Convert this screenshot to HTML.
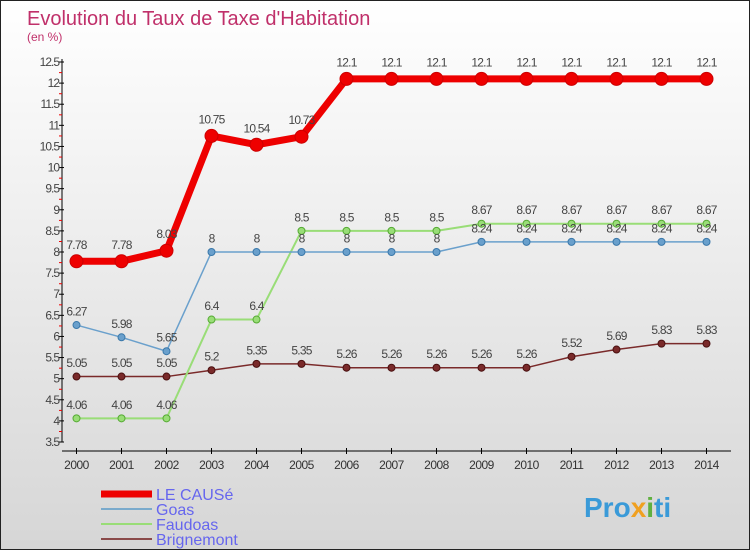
<!DOCTYPE html>
<html><head><meta charset="utf-8"><style>
body{margin:0}
#c{width:750px;height:550px;position:relative;overflow:hidden;box-sizing:border-box;border:1px solid #222;background:linear-gradient(#ffffff,#d6d6d6);font-family:"Liberation Sans","DejaVu Sans",sans-serif}
svg{position:absolute;left:0;top:0}
</style></head><body>
<div id="c">
<svg id="s" width="750" height="550">
<text x="26" y="24" font-size="20" fill="#c0306a">Evolution du Taux de Taxe d'Habitation</text>
<text x="26" y="40" font-size="12" fill="#c0306a">(en %)</text>
<text x="583" y="516" font-size="28" font-weight="bold" fill="#3a9ad8">Pro<tspan fill="#f0a020">x</tspan><tspan fill="#60b040">i</tspan>ti</text>
</svg>
</div>
<script>
const years=[2000,2001,2002,2003,2004,2005,2006,2007,2008,2009,2010,2011,2012,2013,2014];
const leCause=[7.78,7.78,8.03,10.75,10.54,10.73,12.1,12.1,12.1,12.1,12.1,12.1,12.1,12.1,12.1];
const goas=[6.27,5.98,5.65,8,8,8,8,8,8,8.24,8.24,8.24,8.24,8.24,8.24];
const faudoas=[4.06,4.06,4.06,6.4,6.4,8.5,8.5,8.5,8.5,8.67,8.67,8.67,8.67,8.67,8.67];
const brignemont=[5.05,5.05,5.05,5.2,5.35,5.35,5.26,5.26,5.26,5.26,5.26,5.52,5.69,5.83,5.83];
const yTicks=[3.5,4,4.5,5,5.5,6,6.5,7,7.5,8,8.5,9,9.5,10,10.5,11,11.5,12,12.5];
const NS="http://www.w3.org/2000/svg";
const s=document.getElementById('s');
const X=i=>75.5+i*45;
const Y=v=>441-(v-3.5)*(380/9);
function mk(t,a){const e=document.createElementNS(NS,t);for(const k in a)e.setAttribute(k,a[k]);s.appendChild(e);return e;}
let e=mk('line',{x1:61,y1:58,x2:61,y2:441,stroke:'#000','stroke-width':1});


e=mk('line',{x1:61,y1:450,x2:730,y2:450,stroke:'#000','stroke-width':1});


yTicks.forEach((v,i)=>{
 const y=Y(v);
 let t=mk('line',{x1:58,y1:y,x2:63,y2:y,stroke:'#000'});
 
 
 if(i<yTicks.length-1){let m=mk('line',{x1:58,y1:y-10.5,x2:61,y2:y-10.5,stroke:'#e00'});
 
 }
 let l=mk('text',{x:58,y:y+4,'font-size':12,fill:'#444','text-anchor':'end','letter-spacing':'-1'});
 l.textContent=v;
 
 
});
years.forEach((yr,i)=>{
 let t=mk('line',{x1:X(i),y1:447,x2:X(i),y2:453,stroke:'#000'});
 
 
 let l=mk('text',{x:X(i),y:468,'font-size':12,fill:'#333','text-anchor':'middle','letter-spacing':'-0.5'});
 l.textContent=yr;
 
 
});
function series(d,col,dark,w,r,name){
 let p=mk('polyline',{points:d.map((v,i)=>X(i)+','+Y(v)).join(' '),fill:'none',stroke:col,'stroke-width':w,'stroke-linejoin':'round'});
 
 
 d.forEach((v,i)=>{
  let c=mk('circle',{cx:X(i),cy:Y(v),r:r,fill:col,stroke:dark,'stroke-width':1});
  
  
  let l=mk('text',{x:X(i),y:Y(v)-(r+6),'font-size':12,fill:'#444','text-anchor':'middle','letter-spacing':'-0.8'});
  l.textContent=v;
  
  
 });
}
series(brignemont,'#7a2a2a','#4a1010',1.5,3.5,'brignemont');
series(faudoas,'#99dd77','#55aa33',2,3.5,'faudoas');
series(goas,'#6aa0cc','#3a78aa',1.5,3.5,'goas');
series(leCause,'#ee0000','#cc0000',7,6.5,'le-cause');
const leg=[['LE CAUSé','#ee0000',7],['Goas','#7aaacc',2],['Faudoas','#99dd77',2],['Brignemont','#8a4a4a',2]];
leg.forEach((g,i)=>{
 const y=493+i*15;
 let l=mk('line',{x1:100,y1:y,x2:151,y2:y,stroke:g[1],'stroke-width':g[2]});
 
 
 let t=mk('text',{x:155,y:y+6,'font-size':16,fill:'#6666ee'});
 t.textContent=g[0];
 
 
});
</script>
</body></html>
